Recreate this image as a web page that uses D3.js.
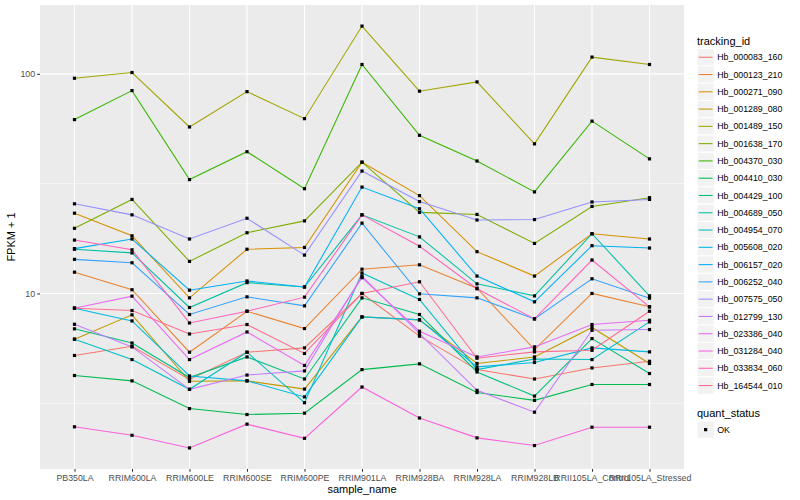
<!DOCTYPE html>
<html>
<head>
<meta charset="utf-8">
<script src="https://d3js.org/d3.v7.min.js"></script>
<style>
  body { margin: 0; background: #fff; }
  text { font-family: "Liberation Sans", Arial, sans-serif; }
</style>
</head>
<body>
<svg id="chart" width="800" height="500"></svg>
<script>
// samples on the x axis
var samples = ["PB350LA", "RRIM600LA", "RRIM600LE", "RRIM600SE", "RRIM600PE", "RRIM901LA",
  "RRIM928BA", "RRIM928LA", "RRIM928LB", "RRII105LA_Control", "RRII105LA_Stressed"];

var trackingIds = ["Hb_000083_160", "Hb_000123_210", "Hb_000271_090", "Hb_001289_080", "Hb_001489_150",
  "Hb_001638_170", "Hb_004370_030", "Hb_004410_030", "Hb_004429_100", "Hb_004689_050",
  "Hb_004954_070", "Hb_005608_020", "Hb_006157_020", "Hb_006252_040", "Hb_007575_050",
  "Hb_012799_130", "Hb_023386_040", "Hb_031284_040", "Hb_033834_060", "Hb_164544_010"];

// FPKM + 1, one row per tracking_id (same order), one value per sample
var fpkm = [
  [5.22, 5.75, 4.06, 5.40, 5.65, 10.0, 6.39, 4.50, 4.08, 4.58, 4.91],
  [12.5, 10.4, 5.40, 8.30, 6.92, 12.9, 13.5, 10.57, 5.55, 10.0, 8.69],
  [23.2, 18.3, 9.55, 15.9, 16.2, 39.6, 27.9, 15.5, 12.0, 18.7, 17.7],
  [6.19, 7.99, 3.98, 4.00, 3.67, 7.82, 7.58, 4.80, 5.14, 7.00, 4.80],
  [95.5, 101.4, 57.3, 83.0, 62.5, 165, 83.4, 91.9, 48.0, 119.2, 110.3],
  [19.8, 26.8, 14.0, 18.9, 21.4, 39.6, 23.4, 22.9, 16.9, 24.9, 27.3],
  [61.9, 83.9, 33.0, 44.2, 30.0, 110.3, 52.5, 40.1, 29.0, 60.9, 41.0],
  [4.23, 4.00, 2.99, 2.81, 2.85, 4.50, 4.78, 3.54, 3.26, 3.85, 3.85],
  [6.90, 5.95, 4.14, 5.14, 4.08, 9.55, 8.02, 4.39, 3.41, 6.23, 4.32],
  [15.9, 15.3, 8.63, 11.2, 10.7, 22.8, 18.1, 11.06, 9.75, 18.7, 9.75],
  [6.19, 5.00, 3.66, 5.40, 3.18, 12.4, 9.39, 4.50, 5.03, 5.00, 7.42],
  [8.57, 7.50, 4.21, 4.00, 3.38, 7.82, 7.58, 4.63, 4.85, 5.65, 5.42],
  [16.0, 17.7, 10.35, 11.4, 10.7, 30.5, 24.3, 12.0, 9.16, 16.5, 16.1],
  [14.3, 13.8, 8.02, 9.65, 8.78, 20.9, 9.96, 9.55, 7.66, 11.66, 9.52],
  [25.6, 22.8, 17.7, 22.0, 14.95, 36.1, 26.2, 21.6, 21.7, 26.1, 26.8],
  [7.24, 5.71, 3.66, 4.25, 4.44, 12.0, 6.57, 3.62, 2.88, 6.80, 6.85],
  [8.57, 9.72, 5.00, 6.68, 4.70, 11.8, 6.73, 5.14, 5.71, 7.22, 7.55],
  [2.47, 2.26, 1.98, 2.54, 2.19, 3.75, 2.71, 2.20, 2.03, 2.46, 2.46],
  [17.5, 15.8, 7.34, 8.30, 9.62, 22.8, 16.4, 10.5, 7.66, 14.2, 8.69],
  [8.57, 8.36, 6.54, 7.22, 5.33, 10.0, 11.3, 5.07, 5.42, 5.51, 8.30]
];

var quantStatus = ["OK"];

// ggplot default hue palette for 20 groups
var palette = ["#F8766D", "#EA8331", "#D89000", "#C09B00", "#A3A500", "#7CAE00", "#39B600", "#00BB4E",
  "#00BF7D", "#00C1A3", "#00BFC4", "#00BAE0", "#00B0F6", "#35A2FF", "#9590FF", "#C77CFF",
  "#E76BF3", "#FA62DB", "#FF62BC", "#FF6C91"];

var panel = {left: 40, right: 684, top: 5, bottom: 469};
var svg = d3.select("#chart");

var x = d3.scalePoint()
  .domain(samples)
  .range([panel.left, panel.right])
  .padding(0.6);

// log scale with 5% expansion like ggplot
var allValues = d3.merge(fpkm);
var lo = Math.log10(d3.min(allValues));
var hi = Math.log10(d3.max(allValues));
var pad = (hi - lo) * 0.05;
var y = d3.scaleLog()
  .domain([Math.pow(10, lo - pad), Math.pow(10, hi + pad)])
  .range([panel.bottom, panel.top]);

var color = d3.scaleOrdinal().domain(trackingIds).range(palette);

// panel background
svg.append("rect")
  .attr("x", panel.left)
  .attr("y", panel.top)
  .attr("width", panel.right - panel.left)
  .attr("height", panel.bottom - panel.top)
  .attr("fill", "#EBEBEB");

var grid = svg.append("g");
var minorTicks = [Math.pow(10, 0.5), Math.pow(10, 1.5)];
var majorTicks = [10, 100];

grid.selectAll(".minor")
  .data(minorTicks)
  .enter()
  .append("line")
  .attr("x1", panel.left)
  .attr("x2", panel.right)
  .attr("y1", d => y(d))
  .attr("y2", d => y(d))
  .attr("stroke", "#fff")
  .attr("stroke-width", 0.55);

grid.selectAll(".major")
  .data(majorTicks)
  .enter()
  .append("line")
  .attr("x1", panel.left)
  .attr("x2", panel.right)
  .attr("y1", d => y(d))
  .attr("y2", d => y(d))
  .attr("stroke", "#fff")
  .attr("stroke-width", 1.07);

grid.selectAll(".vmajor")
  .data(samples)
  .enter()
  .append("line")
  .attr("x1", d => x(d))
  .attr("x2", d => x(d))
  .attr("y1", panel.top)
  .attr("y2", panel.bottom)
  .attr("stroke", "#fff")
  .attr("stroke-width", 1.07);

// lines, one per tracking_id
var line = d3.line()
  .x((d, i) => x(samples[i]))
  .y(d => y(d));

svg.append("g")
  .selectAll("path")
  .data(fpkm)
  .enter()
  .append("path")
  .attr("d", d => line(d))
  .attr("fill", "none")
  .attr("stroke", (d, i) => color(trackingIds[i]))
  .attr("stroke-width", 1.07);

// points on top
var pts = [];
fpkm.forEach(function (row, i) {
  row.forEach(function (v, j) {
    pts.push({sample: samples[j], value: v});
  });
});
var ps = 3.2;
svg.append("g")
  .selectAll("rect")
  .data(pts)
  .enter()
  .append("rect")
  .attr("x", d => x(d.sample) - ps / 2)
  .attr("y", d => y(d.value) - ps / 2)
  .attr("width", ps)
  .attr("height", ps)
  .attr("fill", "#000");

// axes
var xAxis = d3.axisBottom(x).tickSize(2.75).tickPadding(3.5);
var gx = svg.append("g")
  .attr("transform", `translate(0,${panel.bottom})`)
  .call(xAxis);
var yAxis = d3.axisLeft(y).tickValues(majorTicks).tickFormat(d3.format("d")).tickSize(2.75).tickPadding(2.2);
var gy = svg.append("g")
  .attr("transform", `translate(${panel.left},0)`)
  .call(yAxis);

[gx, gy].forEach(function (g) {
  g.select(".domain").remove();
  g.selectAll(".tick line").attr("stroke", "#333333").attr("stroke-width", 1.07);
  g.selectAll(".tick text")
    .attr("fill", "#4D4D4D")
    .style("font-size", "8.8px")
    .style("font-family", "'Liberation Sans', Arial, sans-serif");
});

// axis titles
svg.append("text")
  .attr("x", (panel.left + panel.right) / 2)
  .attr("y", 493)
  .attr("text-anchor", "middle")
  .style("font-size", "11px")
  .text("sample_name");

svg.append("text")
  .attr("transform", `translate(15,${(panel.top + panel.bottom) / 2}) rotate(-90)`)
  .attr("text-anchor", "middle")
  .style("font-size", "11px")
  .text("FPKM + 1");

// legend: tracking_id
var legX = 697;
var keySize = 17.28;
var leg = svg.append("g");
leg.append("text")
  .attr("x", legX)
  .attr("y", 44.5)
  .style("font-size", "11px")
  .text("tracking_id");

var keys = leg.selectAll(".key")
  .data(trackingIds)
  .enter()
  .append("g")
  .attr("transform", (d, i) => `translate(${legX},${48.6 + i * keySize})`);

keys.append("rect")
  .attr("width", keySize)
  .attr("height", keySize)
  .attr("fill", "#F2F2F2")
  .attr("stroke", "#fff");

keys.append("line")
  .attr("x1", 1.7)
  .attr("x2", keySize - 1.7)
  .attr("y1", keySize / 2)
  .attr("y2", keySize / 2)
  .attr("stroke", d => color(d))
  .attr("stroke-width", 1.07);

keys.append("text")
  .attr("x", keySize + 3)
  .attr("y", keySize / 2)
  .attr("dy", "0.35em")
  .style("font-size", "8.8px")
  .text(d => d);

// legend: quant_status
var leg2 = svg.append("g");
leg2.append("text")
  .attr("x", legX)
  .attr("y", 416.5)
  .style("font-size", "11px")
  .text("quant_status");

var keys2 = leg2.selectAll(".key2")
  .data(quantStatus)
  .enter()
  .append("g")
  .attr("transform", (d, i) => `translate(${legX},${421 + i * keySize})`);

keys2.append("rect")
  .attr("width", keySize)
  .attr("height", keySize)
  .attr("fill", "#F2F2F2")
  .attr("stroke", "#fff");

keys2.append("rect")
  .attr("x", keySize / 2 - ps / 2)
  .attr("y", keySize / 2 - ps / 2)
  .attr("width", ps)
  .attr("height", ps)
  .attr("fill", "#000");

keys2.append("text")
  .attr("x", keySize + 3)
  .attr("y", keySize / 2)
  .attr("dy", "0.35em")
  .style("font-size", "8.8px")
  .text(d => d);
</script>
</body>
</html>
